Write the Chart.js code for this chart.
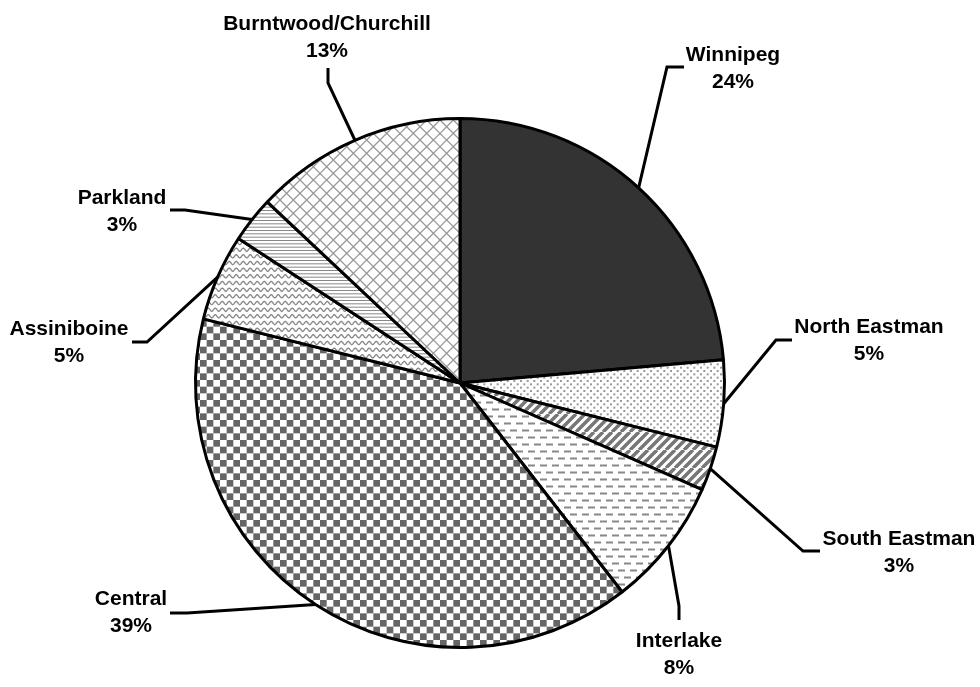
<!DOCTYPE html>
<html>
<head>
<meta charset="utf-8">
<script src="https://cdn.jsdelivr.net/npm/chart.js@4/dist/chart.umd.min.js"></script>
<style>
  html, body { margin: 0; padding: 0; background: #ffffff; }
  #wrap { width: 980px; height: 687px; position: relative; }
</style>
</head>
<body>
<div id="wrap"><canvas id="c" width="980" height="687"></canvas></div>
<script>
// ---- data ----
const categories = ['Winnipeg', 'North Eastman', 'South Eastman', 'Interlake', 'Central', 'Assiniboine', 'Parkland', 'Burntwood/Churchill'];
const shares = [23.6, 5.3, 2.7, 7.9, 39.4, 5.3, 2.8, 13.0];

// ---- label layout (annotation placement, not data) ----
const labelLayout = [
  { elbow: [667, 67],  end: [684, 67],  text: [733, 55] },
  { elbow: [776, 340], end: [792, 340], text: [869, 327] },
  { elbow: [803, 551], end: [820, 551], text: [899, 539] },
  { elbow: [679, 606], end: [679, 620], text: [679, 641] },
  { elbow: [187, 613], end: [170, 613], text: [131, 599] },
  { elbow: [147, 342], end: [132, 342], text: [69, 329] },
  { elbow: [185, 210], end: [170, 210], text: [122, 198] },
  { elbow: [328, 83],  end: [328, 68],  text: [327, 24] }
];

// ---- pattern fills ----
function tile(w, h, draw) {
  const c = document.createElement('canvas');
  c.width = w; c.height = h;
  const g = c.getContext('2d');
  g.fillStyle = '#ffffff';
  g.fillRect(0, 0, w, h);
  draw(g, w, h);
  return c;
}
const canvas = document.getElementById('c');
const ctx = canvas.getContext('2d');
const pat = t => ctx.createPattern(t, 'repeat');

const dots = tile(20, 20, g => {
  g.fillStyle = '#999';
  const p = 20 / 3;
  for (let i = 0; i < 3; i++) for (let j = 0; j < 3; j++) {
    g.fillRect(i * p, j * p, 2, 2);
    g.fillRect(i * p + p / 2, j * p + p / 2, 2, 2);
  }
});
const stripes = tile(18, 18, g => {
  g.strokeStyle = '#777'; g.lineWidth = 3.5;
  for (let k = -2; k <= 5; k++) {
    const c = k * 9;
    g.beginPath(); g.moveTo(c, 0); g.lineTo(c - 18, 18); g.stroke();
  }
});
const dashes = tile(12, 14, g => {
  g.fillStyle = '#888';
  g.fillRect(0, 2.5, 7, 2);
  g.fillRect(6, 9.5, 6, 2);
  g.fillRect(0, 9.5, 1, 2);
});
const checker = tile(40, 40, g => {
  g.fillStyle = '#666';
  const s = 40 / 6;
  for (let i = 0; i < 6; i++) for (let j = 0; j < 6; j++) {
    if ((i + j) % 2 === 0) g.fillRect(i * s, j * s, s, s);
  }
});
const waves = tile(14, 20, g => {
  g.strokeStyle = '#888'; g.lineWidth = 1.3;
  const rp = 20 / 3;
  for (let r = -1; r <= 3; r++) {
    const y0 = r * rp + 3;
    g.beginPath();
    for (let x = -1; x <= 15; x += 0.5) {
      const y = y0 + 1.6 * Math.sin(2 * Math.PI * x / 7);
      if (x === -1) g.moveTo(x, y); else g.lineTo(x, y);
    }
    g.stroke();
  }
});
const hlines = tile(10, 10, g => {
  g.fillStyle = '#888';
  for (let k = 0; k < 3; k++) g.fillRect(0, k * 10 / 3, 10, 1);
});
const crosshatch = tile(40, 40, g => {
  g.strokeStyle = '#999'; g.lineWidth = 1.3;
  const p = 40 / 3;
  for (let k = -3; k <= 6; k++) {
    const c = k * p;
    g.beginPath(); g.moveTo(c, 0); g.lineTo(c - 40, 40); g.stroke();
    g.beginPath(); g.moveTo(c, 0); g.lineTo(c + 40, 40); g.stroke();
  }
});

const fills = ['#333333', pat(dots), pat(stripes), pat(dashes), pat(checker), pat(waves), pat(hlines), pat(crosshatch)];

// ---- label plugin ----
const leaderLabels = {
  id: 'leaderLabels',
  afterDatasetsDraw(chart) {
    const c = chart.ctx;
    const meta = chart.getDatasetMeta(0);
    const data = chart.data.datasets[0].data;
    const total = data.reduce((a, b) => a + b, 0);
    c.save();
    meta.data.forEach((arc, i) => {
      const p = arc.getProps(['x', 'y', 'startAngle', 'endAngle', 'outerRadius'], true);
      const mid = (p.startAngle + p.endAngle) / 2;
      const sx = p.x + Math.cos(mid) * p.outerRadius;
      const sy = p.y + Math.sin(mid) * p.outerRadius;
      const L = labelLayout[i];
      c.strokeStyle = '#000';
      c.lineWidth = 3;
      c.lineJoin = 'miter';
      c.beginPath();
      c.moveTo(sx, sy);
      c.lineTo(L.elbow[0], L.elbow[1]);
      c.lineTo(L.end[0], L.end[1]);
      c.stroke();
      c.fillStyle = '#000';
      c.font = 'bold 21px "Liberation Sans", Arial, sans-serif';
      c.textAlign = 'center';
      c.textBaseline = 'middle';
      c.fillText(chart.data.labels[i], L.text[0], L.text[1]);
      c.fillText(Math.round(data[i] / total * 100) + '%', L.text[0], L.text[1] + 27);
    });
    c.restore();
  }
};

new Chart(canvas, {
  type: 'pie',
  data: {
    labels: categories,
    datasets: [{
      data: shares,
      backgroundColor: fills,
      borderColor: '#000',
      borderWidth: 3
    }]
  },
  options: {
    responsive: false,
    devicePixelRatio: 1,
    animation: false,
    layout: { padding: { left: 194, top: 117, right: 254, bottom: 38 } },
    plugins: { legend: { display: false }, tooltip: { enabled: false } }
  },
  plugins: [leaderLabels]
});
</script>
</body>
</html>
